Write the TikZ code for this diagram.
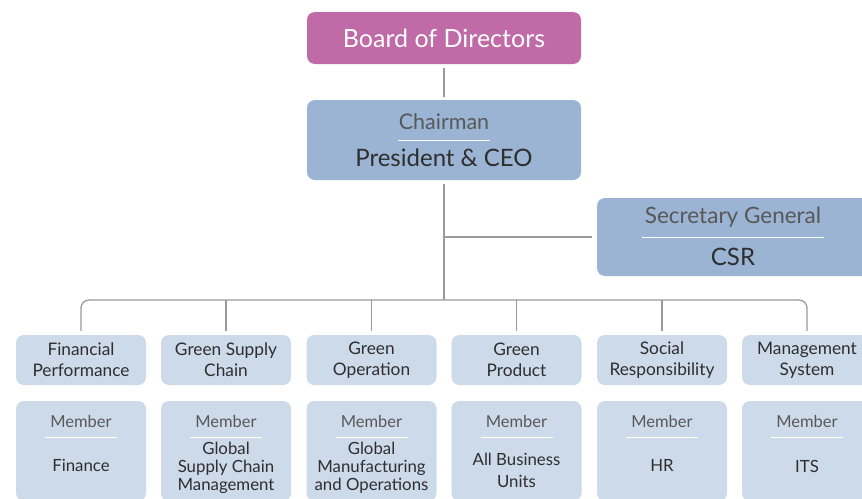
\documentclass[tikz,border=0pt]{standalone}
\usepackage{fontspec}
\setmainfont{Lato}
\definecolor{boardc}{HTML}{C06AA8}
\definecolor{midc}{HTML}{9BB4D4}
\definecolor{lightc}{HTML}{CDDAEA}
\definecolor{linec}{HTML}{9A9A9A}
\definecolor{txtc}{HTML}{2E2E2E}
\begin{document}
\begin{tikzpicture}[x=1pt,y=-1pt,
  box/.style={rounded corners=8pt, inner sep=0pt, align=center, text=txtc},
  topbox/.style={box, fill=boardc, minimum width=274pt, minimum height=52pt, text=white, font=\fontsize{25}{28}\selectfont},
  midbox/.style={box, fill=midc, minimum width=274pt, minimum height=80pt},
  secbox/.style={box, fill=midc, minimum width=274pt, minimum height=78pt},
  areabox/.style={box, fill=lightc, minimum width=130pt, minimum height=50pt, font=\fontsize{17.3}{21}\selectfont},
  membox/.style={box, fill=lightc, minimum width=130pt, minimum height=100pt},
  conn/.style={draw=linec, line width=1.3pt},
  rulec/.style={draw=white, line width=1pt},
  memtxt/.style={text=txtc!80, font=\fontsize{16.5}{18}\selectfont},
  dept/.style={text=txtc, align=center, font=\fontsize{16.8}{18}\selectfont}
]
\clip (0,0) rectangle (862,498);
\fill[white] (0,0) rectangle (862,498);

\node[topbox] (board) at (444,38) {Board of Directors};
\node[midbox] (chair) at (444,140) {};
\node[text=txtc!80, font=\fontsize{21.5}{24}\selectfont] (chairt) at (444,122) {Chairman};
\node[text=txtc, font=\fontsize{24}{26}\selectfont] (ceot) at (444,158) {President \& CEO};
\draw[rulec] (398,140) -- (490,140);

\node[secbox] (sec) at (734,237) {};
\node[text=txtc!80, font=\fontsize{22.5}{24}\selectfont] (sect) at (733,217) {Secretary General};
\node[text=txtc, font=\fontsize{24}{26}\selectfont] (csrt) at (733,257) {CSR};
\draw[rulec] (642,237) -- (824,237);

% area boxes
\node[areabox] (a1) at (81,360) {Financial\\Performance};
\node[areabox] (a2) at (226,360) {Green Supply\\Chain};
\node[areabox] (a3) at (371.5,360) {Green\\Operation};
\node[areabox] (a4) at (516.5,360) {Green\\Product};
\node[areabox] (a5) at (662,360) {Social\\Responsibility};
\node[areabox] (a6) at (807,360) {Management\\System};

% member boxes
\foreach \i/\x in {1/81,2/226,3/371.5,4/516.5,5/662,6/807}{
  \node[membox] (m\i) at (\x,451) {};
  \node[memtxt] (mt\i) at (\x,421) {Member};
  \draw[rulec] (\x-36,437) -- (\x+36,437);
}
\node[dept] (d1) at (81,465) {Finance};
\node[dept] (d2) at (226,468) {Global\\Supply Chain\\Management};
\node[dept] (d3) at (371.5,468) {Global\\Manufacturing\\and Operations};
\node[dept,font=\fontsize{16.8}{22}\selectfont] (d4) at (516.5,470) {All Business\\Units};
\node[dept] (d5) at (662,465) {HR};
\node[dept] (d6) at (807,466) {ITS};

% connectors
\coordinate (j) at (444,300);
\draw[conn] ([yshift=-4pt]board.south) -- ([yshift=3pt]chair.north);
\draw[conn] ([yshift=-4pt]chair.south) -- (j);
\draw[conn] (chair.south |- sec.west) -- ([xshift=-5pt]sec.west);
\draw[conn, rounded corners=8pt] ([yshift=4pt]a1.north) -- (a1.north |- j) -- (a6.north |- j) -- ([yshift=4pt]a6.north);
\foreach \i in {2,3,4,5}{
  \draw[conn] (a\i.north |- j) -- ([yshift=4pt]a\i.north);
}
\end{tikzpicture}
\end{document}
